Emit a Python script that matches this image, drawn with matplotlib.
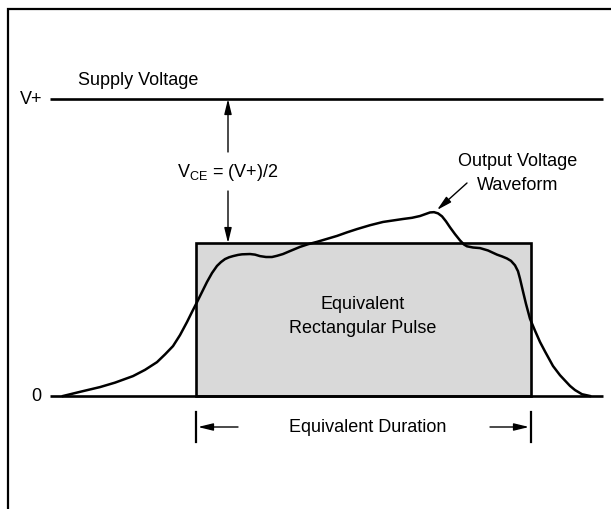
import matplotlib
matplotlib.use('Agg')
import matplotlib.pyplot as plt
from matplotlib.patches import Rectangle, FancyArrowPatch

plt.rcParams['font.family'] = ['Liberation Sans', 'DejaVu Sans']
plt.rcParams['mathtext.fontset'] = 'custom'
plt.rcParams['mathtext.rm'] = 'Liberation Sans'
plt.rcParams['mathtext.it'] = 'Liberation Sans'

# output voltage waveform
# time in arbitrary units, voltage as a fraction of V+
wave_t = [63, 80, 100, 115, 133, 145, 157, 165, 173, 180, 187, 192, 197, 202,
          207, 212, 217, 221, 225, 229, 233, 238, 242, 250, 255, 260, 266, 272,
          277, 283, 290, 300, 308, 317, 327, 337, 347, 357, 370, 383, 393, 403,
          412, 420, 425, 430, 434, 438, 442, 446, 450, 455, 460, 464, 467, 473,
          480, 488, 497, 502, 507, 511, 515, 518, 520, 523, 526, 530, 535, 540,
          545, 553, 560, 570, 575, 582, 590]
wave_v = [0.0, 0.014, 0.030, 0.045, 0.067, 0.088, 0.114, 0.140, 0.168, 0.205,
          0.249, 0.283, 0.316, 0.350, 0.384, 0.414, 0.438, 0.451, 0.461, 0.467,
          0.471, 0.475, 0.477, 0.478, 0.476, 0.471, 0.468, 0.468, 0.472, 0.478,
          0.488, 0.502, 0.511, 0.519, 0.529, 0.539, 0.551, 0.562, 0.575, 0.586,
          0.591, 0.596, 0.600, 0.606, 0.612, 0.618, 0.619, 0.615, 0.605, 0.588,
          0.568, 0.545, 0.524, 0.510, 0.504, 0.500, 0.498, 0.490, 0.476, 0.470,
          0.463, 0.455, 0.440, 0.420, 0.395, 0.352, 0.310, 0.260, 0.220, 0.182,
          0.150, 0.101, 0.070, 0.034, 0.020, 0.006, 0.0]

supply_level = 1.0          # V+
pulse_start = 196
pulse_end = 531
pulse_level = 0.515         # equivalent rectangular pulse height
axis_start = 50
axis_end = 603

fig = plt.figure(figsize=(6.11, 5.10), dpi=100)
ax = fig.add_axes([0, 0, 1, 1])
ax.set_xlim(0, 611)
ax.set_ylim(-113 / 297.0, 397 / 297.0)
ax.axis('off')

# frame (left and top only, image is cropped)
ax.plot([8, 8, 611], [-113 / 297.0, 387 / 297.0, 387 / 297.0], color='black',
        lw=1.6, clip_on=False, solid_joinstyle='miter')

# supply and zero lines
ax.plot([axis_start, axis_end], [supply_level, supply_level], color='black', lw=1.9,
        solid_capstyle='butt')
ax.add_patch(Rectangle((pulse_start, 0), pulse_end - pulse_start, pulse_level,
                       facecolor='#d9d9d9', edgecolor='black', lw=1.9, zorder=2))
ax.plot([axis_start, axis_end], [0, 0], color='black', lw=1.9,
        solid_capstyle='butt', zorder=3)
ax.plot(wave_t, wave_v, color='black', lw=1.8, zorder=4, solid_joinstyle='round')

fs = 13
ax.text(78, 1.067, 'Supply Voltage', fontsize=fs, ha='left', va='center')
ax.text(42, supply_level, 'V+', fontsize=fs, ha='right', va='center')
ax.text(41, 0, '0', fontsize=fs, ha='right', va='center')

def arrow(p0, p1, lw=1.0):
    ax.add_patch(FancyArrowPatch(p0, p1, arrowstyle='-|>,head_length=0.9,head_width=0.22',
                                 mutation_scale=10, color='black', lw=lw,
                                 shrinkA=0, shrinkB=0, zorder=5))

# V_CE arrows
xv = 228
arrow((xv, (397 - 153) / 297.0), (xv, supply_level))
arrow((xv, (397 - 192) / 297.0), (xv, pulse_level))
ax.text(177, (397 - 173) / 297.0, r'V$_{\mathrm{CE}}$ = (V+)/2', fontsize=fs,
        ha='left', va='center')

# output waveform label
ax.text(518, (397 - 162) / 297.0, 'Output Voltage', fontsize=fs, ha='center', va='center')
ax.text(518, (397 - 186) / 297.0, 'Waveform', fontsize=fs, ha='center', va='center')
arrow((467, (397 - 184) / 297.0), (437, (397 - 211) / 297.0))

# pulse label
ax.text(363, (397 - 305) / 297.0, 'Equivalent', fontsize=fs, ha='center', va='center')
ax.text(363, (397 - 329) / 297.0, 'Rectangular Pulse', fontsize=fs, ha='center', va='center')

# equivalent duration
yd = -(428 - 397) / 297.0
for xt in [pulse_start, pulse_end]:
    ax.plot([xt, xt], [-(413 - 397) / 297.0, -(443 - 397) / 297.0], color='black', lw=1.6)
arrow((238, yd), (pulse_start + 2, yd))
arrow((490, yd), (pulse_end - 2, yd))
ax.text(368, yd, 'Equivalent Duration', fontsize=fs, ha='center', va='center')

fig.savefig('out.png', dpi=100)
